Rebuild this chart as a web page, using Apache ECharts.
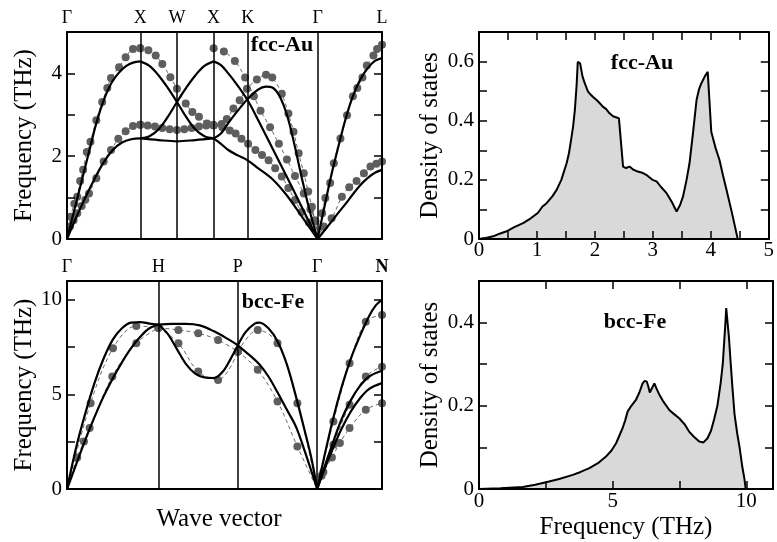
<!DOCTYPE html>
<html>
<head>
<meta charset="utf-8">
<script src="https://cdn.jsdelivr.net/npm/echarts@6/dist/echarts.min.js"></script>
<style>
html,body{margin:0;padding:0;background:#fff;}
#wrap{position:relative;width:777px;height:542px;}
#c,#ax{position:absolute;left:0;top:0;width:777px;height:542px;}
</style>
</head>
<body>
<div id="wrap"><div id="c"></div><div id="ax"></div></div>
<script>
// ---------- high-symmetry points ----------
const auSym = [0, 1, 1.5, 2, 2.464, 3.419, 4.297];
const auSymLabels = ['Γ', 'X', 'W', 'X', 'K', 'Γ', 'L'];
const feSym = [0, 1, 1.866, 2.732, 3.44];
const feSymLabels = ['Γ', 'H', 'P', 'Γ', 'N'];

// ---------- tick labels ----------
const auFreqTicks = [0, 2, 4];
const feFreqTicks = [0, 5, 10];
const auDosXTicks = [0, 1, 2, 3, 4, 5];
const auDosYTicks = [0, 0.2, 0.4, 0.6];
const feDosXTicks = [0, 5, 10];
const feDosYTicks = [0, 0.2, 0.4];

// ---------- fcc-Au dispersion: theory (solid) ----------
const auThGX_TA = [[0,0],[0.125,0.52],[0.25,1.0],[0.375,1.45],[0.5,1.85],[0.625,2.15],[0.75,2.33],[0.875,2.41],[1,2.43]];
const auThGX_LA = [[0,0],[0.1,0.7],[0.2,1.4],[0.3,2.1],[0.4,2.8],[0.5,3.35],[0.6,3.75],[0.7,4.0],[0.8,4.17],[0.9,4.26],[1,4.29]];
const auThXWX_flat = [[1,2.43],[1.25,2.39],[1.5,2.36],[1.75,2.39],[2,2.43]];
const auThXWX_down = [[1,4.29],[1.125,4.18],[1.25,3.95],[1.375,3.65],[1.5,3.31],[1.625,2.95],[1.75,2.65],[1.875,2.48],[2,2.43]];
const auThXWX_up = [[1,2.43],[1.125,2.48],[1.25,2.65],[1.375,2.95],[1.5,3.31],[1.625,3.65],[1.75,3.95],[1.875,4.18],[2,4.29]];
const auThXKG_A = [[2,4.29],[2.1,4.2],[2.2,4.0],[2.33,3.7],[2.464,3.35],[2.6,2.9],[2.8,2.2],[3.0,1.5],[3.2,0.78],[3.419,0]];
const auThXKG_B = [[2,2.43],[2.1,2.55],[2.2,2.8],[2.33,3.1],[2.464,3.38],[2.6,3.6],[2.72,3.68],[2.8,3.66],[2.9,3.45],[3.0,3.0],[3.1,2.3],[3.2,1.5],[3.3,0.75],[3.419,0]];
const auThXKG_C = [[2,2.43],[2.1,2.3],[2.2,2.15],[2.33,2.02],[2.464,1.9],[2.6,1.72],[2.8,1.45],[3.0,1.05],[3.2,0.55],[3.419,0]];
const auThGL_LA = [[3.419,0],[3.5,0.68],[3.6,1.5],[3.7,2.22],[3.8,2.9],[3.9,3.45],[4.0,3.85],[4.1,4.12],[4.2,4.3],[4.297,4.37]];
const auThGL_TA = [[3.419,0],[3.5,0.18],[3.6,0.4],[3.7,0.63],[3.8,0.85],[3.9,1.08],[4.0,1.3],[4.1,1.47],[4.2,1.6],[4.297,1.67]];

// ---------- fcc-Au dispersion: experiment (dots + dashed) ----------
const auExGX_up = [[0,0],[0.05,0.54],[0.1,0.85],[0.14,1.02],[0.18,1.4],[0.22,1.67],[0.27,2.1],[0.32,2.35],[0.40,2.87],[0.48,3.31],[0.55,3.65],[0.60,3.89],[0.71,4.15],[0.80,4.39],[0.90,4.59],[1.0,4.61]];
const auExGX_lo = [[0,0],[0.04,0.3],[0.09,0.45],[0.14,0.62],[0.2,0.8],[0.25,0.95],[0.3,1.1],[0.4,1.47],[0.5,1.87],[0.6,2.15],[0.7,2.42],[0.8,2.6],[0.9,2.73],[1.0,2.76]];
const auExXWX_down = [[1.0,4.61],[1.11,4.56],[1.21,4.43],[1.3,4.23],[1.41,3.91],[1.5,3.63],[1.62,3.27],[1.71,3.07],[1.8,2.95],[1.91,2.79],[2.0,2.75]];
const auExXWX_flat = [[1.0,2.76],[1.1,2.74],[1.2,2.72],[1.3,2.68],[1.4,2.65],[1.5,2.63],[1.6,2.65],[1.7,2.68],[1.8,2.72],[1.9,2.74],[2.0,2.75]];
const auExXKG_A = [[2.0,4.61],[2.14,4.53],[2.29,4.3],[2.43,3.9],[2.55,3.45],[2.64,3.1],[2.77,2.7],[2.89,2.3],[3.0,1.92],[3.11,1.52],[3.23,1.1],[3.32,0.72],[3.39,0.42],[3.419,0]];
const auExXKG_B = [[2.0,2.75],[2.11,2.78],[2.18,2.9],[2.27,3.15],[2.355,3.35],[2.455,3.63],[2.59,3.85],[2.715,3.97],[2.8,3.9],[2.93,3.51],[3.02,3.03],[3.09,2.59],[3.16,2.07],[3.23,1.59],[3.29,1.15],[3.34,0.78],[3.38,0.45],[3.419,0]];
const auExXKG_C = [[2.0,2.75],[2.12,2.7],[2.22,2.62],[2.3,2.55],[2.38,2.42],[2.47,2.3],[2.57,2.15],[2.66,2.03],[2.75,1.9],[2.84,1.71],[2.93,1.51],[3.02,1.23],[3.11,0.94],[3.2,0.65],[3.3,0.4],[3.419,0]];
const auExGL_up = [[3.419,0],[3.48,0.62],[3.524,0.99],[3.59,1.35],[3.64,1.83],[3.73,2.43],[3.82,2.99],[3.9,3.45],[3.96,3.65],[4.03,3.9],[4.09,4.19],[4.18,4.43],[4.23,4.59],[4.297,4.69]];
const auExGL_lo = [[3.419,0],[3.5,0.3],[3.61,0.5],[3.75,1.02],[3.85,1.25],[3.95,1.4],[4.05,1.59],[4.14,1.75],[4.22,1.82],[4.297,1.87]];

// ---------- bcc-Fe dispersion: theory ----------
const feThGH_up = [[0,0],[0.1,2.2],[0.2,4.0],[0.3,5.6],[0.4,6.9],[0.5,7.9],[0.6,8.5],[0.7,8.8],[0.8,8.82],[0.9,8.75],[1,8.7]];
const feThGH_lo = [[0,0],[0.1,1.3],[0.2,2.6],[0.3,3.8],[0.4,4.9],[0.5,5.85],[0.6,6.7],[0.7,7.45],[0.8,8.05],[0.9,8.5],[1,8.7]];
const feThHP_flat = [[1,8.7],[1.15,8.73],[1.3,8.73],[1.45,8.65],[1.6,8.35],[1.75,7.95],[1.866,7.6]];
const feThHP_dip = [[1,8.7],[1.1,8.2],[1.2,7.4],[1.3,6.6],[1.4,6.1],[1.5,5.9],[1.6,5.87],[1.7,6.2],[1.8,7.0],[1.866,7.6]];
const feThPG_up = [[1.866,7.6],[1.95,8.3],[2.05,8.75],[2.1,8.8],[2.2,8.5],[2.3,7.8],[2.4,6.6],[2.5,4.9],[2.6,3.0],[2.67,1.6],[2.732,0]];
const feThPG_lo = [[1.866,7.6],[2.0,7.05],[2.1,6.6],[2.2,5.95],[2.3,5.1],[2.4,4.2],[2.5,3.3],[2.6,1.95],[2.732,0]];
const feThGN_up = [[2.732,0],[2.8,1.5],[2.9,3.6],[3.0,5.4],[3.1,6.9],[3.2,8.1],[3.3,9.15],[3.37,9.7],[3.44,10.0]];
const feThGN_mid = [[2.732,0],[2.8,1.0],[2.9,2.4],[3.0,3.7],[3.1,4.7],[3.2,5.45],[3.3,5.95],[3.44,6.25]];
const feThGN_lo = [[2.732,0],[2.8,0.9],[2.9,2.1],[3.0,3.2],[3.1,4.1],[3.2,4.8],[3.3,5.3],[3.44,5.6]];

// ---------- bcc-Fe dispersion: experiment ----------
const feExGH_up = [[0,0],[0.258,4.54],[0.502,7.44],[0.757,8.62],[1,8.53]];
const feExGH_lo = [[0,0],[0.112,1.67],[0.185,2.51],[0.247,3.22],[0.495,5.95],[0.757,7.71],[1,8.53]];
const feExHP_flat = [[1,8.53],[1.217,8.41],[1.433,8.24],[1.65,7.88],[1.866,7.27]];
const feExHP_dip = [[1,8.53],[1.217,7.71],[1.433,6.21],[1.65,5.77],[1.866,7.27]];
const feExPG_up = [[1.866,7.27],[2.083,8.41],[2.299,7.71],[2.516,4.54],[2.732,0]];
const feExPG_lo = [[1.866,7.27],[2.083,6.3],[2.299,4.63],[2.516,2.25],[2.732,0]];
const feExGN_up = [[2.732,0],[2.909,3.57],[3.086,6.65],[3.263,8.85],[3.44,9.2]];
const feExGN_mid = [[2.732,0],[2.8,0.9],[2.91,2.34],[3.086,4.45],[3.263,5.95],[3.44,6.47]];
const feExGN_lo = [[2.732,0],[2.78,0.7],[2.893,1.67],[2.98,2.43],[3.086,3.22],[3.263,4.19],[3.44,4.54]];

// ---------- phonon DOS ----------
const auDosFreq = [0,0.1,0.24,0.35,0.47,0.6,0.75,0.88,1.0,1.08,1.15,1.25,1.32,1.4,1.49,1.53,1.57,1.6,1.63,1.66,1.68,1.72,1.76,1.8,1.85,1.88,1.94,2.0,2.05,2.11,2.16,2.22,2.28,2.34,2.38,2.45,2.5,2.56,2.62,2.7,2.79,2.86,2.95,3.02,3.1,3.19,3.28,3.36,3.42,3.47,3.53,3.58,3.64,3.70,3.74,3.78,3.84,3.89,3.92,3.95,4.02,4.09,4.15,4.21,4.3,4.40];
const auDosVal = [0,0.003,0.009,0.018,0.026,0.04,0.054,0.07,0.088,0.11,0.121,0.145,0.166,0.2,0.256,0.29,0.34,0.38,0.436,0.52,0.599,0.594,0.55,0.526,0.5,0.492,0.48,0.47,0.46,0.447,0.44,0.425,0.415,0.411,0.408,0.245,0.24,0.245,0.235,0.228,0.223,0.215,0.2,0.195,0.175,0.155,0.125,0.093,0.115,0.144,0.2,0.256,0.36,0.47,0.505,0.526,0.55,0.565,0.565,0.363,0.31,0.267,0.215,0.166,0.09,0];
const feDosFreq = [0,0.8,1.64,2.1,2.51,3.0,3.51,3.8,4.13,4.45,4.75,4.95,5.13,5.25,5.37,5.47,5.56,5.7,5.87,6.0,6.12,6.2,6.28,6.34,6.39,6.47,6.56,6.65,6.74,6.9,7.12,7.3,7.49,7.7,7.86,8.05,8.24,8.4,8.55,8.68,8.79,8.92,9.04,9.12,9.17,9.22,9.25,9.3,9.35,9.42,9.48,9.56,9.66,9.75,9.85,9.93,9.98];
const feDosVal = [0,0.002,0.005,0.01,0.016,0.024,0.034,0.041,0.05,0.062,0.078,0.092,0.11,0.128,0.146,0.165,0.186,0.2,0.214,0.232,0.254,0.26,0.258,0.245,0.232,0.242,0.254,0.24,0.228,0.21,0.19,0.18,0.17,0.155,0.138,0.125,0.114,0.112,0.122,0.14,0.166,0.2,0.254,0.3,0.35,0.4,0.435,0.4,0.366,0.3,0.246,0.18,0.134,0.1,0.054,0.025,0];

// ---------- build ----------
const FONT = 'Liberation Serif';

const grids = [
  {left: 67, top: 32, width: 315, height: 207},
  {left: 67, top: 281, width: 315, height: 208},
  {left: 479, top: 32, width: 294, height: 207},
  {left: 479, top: 281, width: 294, height: 208}
];

function symFormatter(sym, labels) {
  return function (v) {
    const i = sym.findIndex(s => Math.abs(s - v) < 1e-6);
    if (i < 0) return '';
    return labels[i] === 'N' ? '{b|N}' : labels[i];
  };
}

function buildAxes(visible) {
  const axisLine = {show: true, onZero: false, lineStyle: {color: '#000', width: 2}};
  const tickIn = {show: true, inside: true, length: 8, lineStyle: {color: '#000', width: 1.5}};
  const lblStyle = {color: '#000', fontFamily: FONT, fontSize: 21};
  const nameStyle = {color: '#000', fontFamily: FONT, fontSize: 25};
  const xAxis = [
    {type: 'value', gridIndex: 0, min: 0, max: 4.297, position: 'bottom', z: 5, axisLine, axisTick: {show: false}, axisLabel: {show: false}, splitLine: {show: false}},
    {type: 'value', gridIndex: 0, min: 0, max: 4.297, position: 'top', z: 5, axisLine, axisTick: {show: false}, splitLine: {show: false},
     axisLabel: {customValues: auSym, formatter: symFormatter(auSym, auSymLabels), color: '#000', fontFamily: FONT, fontSize: 18, margin: 5}},
    {type: 'value', gridIndex: 1, min: 0, max: 3.44, position: 'bottom', z: 5, axisLine, axisTick: {show: false}, axisLabel: {show: false}, splitLine: {show: false}},
    {type: 'value', gridIndex: 1, min: 0, max: 3.44, position: 'top', z: 5, axisLine, axisTick: {show: false}, splitLine: {show: false},
     axisLabel: {customValues: feSym, formatter: symFormatter(feSym, feSymLabels), color: '#000', fontFamily: FONT, fontSize: 18, margin: 5,
       rich: {b: {fontWeight: 'bold', fontFamily: FONT, fontSize: 18, color: '#000'}}}},
    {type: 'value', gridIndex: 2, min: 0, max: 5, interval: 0.5, position: 'bottom', z: 5, axisLine, axisTick: tickIn, splitLine: {show: false},
     axisLabel: Object.assign({customValues: auDosXTicks, margin: 1}, lblStyle)},
    {type: 'value', gridIndex: 2, min: 0, max: 5, interval: 0.5, position: 'top', z: 5, axisLine, axisTick: tickIn, splitLine: {show: false}, axisLabel: {show: false}},
    {type: 'value', gridIndex: 3, min: 0, max: 11, interval: 2.5, position: 'bottom', z: 5, axisLine, axisTick: tickIn, splitLine: {show: false},
     axisLabel: Object.assign({customValues: feDosXTicks, margin: 2}, lblStyle),
     name: 'Frequency (THz)', nameLocation: 'middle', nameGap: 26, nameTextStyle: nameStyle},
    {type: 'value', gridIndex: 3, min: 0, max: 11, interval: 2.5, position: 'top', z: 5, axisLine, axisTick: tickIn, splitLine: {show: false}, axisLabel: {show: false}}
  ];
  function yPair(g, max, interval, labels, name, gap) {
    return [
      {type: 'value', gridIndex: g, min: 0, max: max, interval: interval, position: 'left', z: 5, axisLine, axisTick: tickIn, splitLine: {show: false},
       axisLabel: Object.assign({customValues: labels, margin: 5}, lblStyle),
       name: name, nameLocation: 'middle', nameGap: gap, nameTextStyle: nameStyle},
      {type: 'value', gridIndex: g, min: 0, max: max, interval: interval, position: 'right', z: 5, axisLine, axisTick: tickIn, splitLine: {show: false}, axisLabel: {show: false}}
    ];
  }
  const yAxis = [].concat(
    yPair(0, 5, 1, auFreqTicks, 'Frequency (THz)', 30),
    yPair(1, 11, 2.5, feFreqTicks, 'Frequency (THz)', 30),
    yPair(2, 0.7, 0.1, auDosYTicks, 'Density of states', 36),
    yPair(3, 0.5, 0.1, feDosYTicks, 'Density of states', 36)
  );
  if (!visible) {
    xAxis.forEach(a => { a.show = false; delete a.name; });
    yAxis.forEach(a => { a.show = false; delete a.name; });
  }
  return {xAxis, yAxis};
}

function theory(g, pts) {
  return {
    type: 'line', xAxisIndex: 2 * g, yAxisIndex: 2 * g, data: pts, smooth: 0.35,
    symbol: 'none', showSymbol: false, silent: true, animation: false, z: 3,
    lineStyle: {color: '#000', width: 2.2}
  };
}
function expt(g, pts) {
  return {
    type: 'line', xAxisIndex: 2 * g, yAxisIndex: 2 * g, smooth: 0.35,
    data: pts.map(p => p[1] === 0 ? {value: p, symbol: 'none'} : {value: p}),
    symbol: 'circle', symbolSize: 8, showSymbol: true, showAllSymbol: true,
    silent: true, animation: false, z: 2,
    itemStyle: {color: '#5e5e5e', borderWidth: 0},
    lineStyle: {color: '#6a6a6a', width: 1, type: [4, 3]}
  };
}
function vlines(sym) {
  return {
    silent: true, symbol: ['none', 'none'], animation: false,
    label: {show: false},
    lineStyle: {color: '#000', width: 1.5, type: 'solid'},
    data: sym.slice(1, -1).map(v => ({xAxis: v}))
  };
}

const dataSeries = [
  theory(0, auThGX_TA), theory(0, auThGX_LA), theory(0, auThXWX_flat), theory(0, auThXWX_down), theory(0, auThXWX_up),
  theory(0, auThXKG_A), theory(0, auThXKG_B), theory(0, auThXKG_C), theory(0, auThGL_LA), theory(0, auThGL_TA),
  expt(0, auExGX_up), expt(0, auExGX_lo), expt(0, auExXWX_down), expt(0, auExXWX_flat),
  expt(0, auExXKG_A), expt(0, auExXKG_B), expt(0, auExXKG_C), expt(0, auExGL_up), expt(0, auExGL_lo),

  theory(1, feThGH_up), theory(1, feThGH_lo), theory(1, feThHP_flat), theory(1, feThHP_dip), theory(1, feThPG_up), theory(1, feThPG_lo),
  theory(1, feThGN_up), theory(1, feThGN_mid), theory(1, feThGN_lo),
  expt(1, feExGH_up), expt(1, feExGH_lo), expt(1, feExHP_flat), expt(1, feExHP_dip),
  expt(1, feExPG_up), expt(1, feExPG_lo), expt(1, feExGN_up), expt(1, feExGN_mid), expt(1, feExGN_lo),

  {type: 'line', xAxisIndex: 4, yAxisIndex: 4, data: auDosFreq.map((f, i) => [f, auDosVal[i]]),
   symbol: 'none', showSymbol: false, silent: true, animation: false, z: 2,
   lineStyle: {color: '#000', width: 2}, areaStyle: {color: '#d9d9d9', opacity: 1}},
  {type: 'line', xAxisIndex: 6, yAxisIndex: 6, data: feDosFreq.map((f, i) => [f, feDosVal[i]]),
   symbol: 'none', showSymbol: false, silent: true, animation: false, z: 2,
   lineStyle: {color: '#000', width: 2}, areaStyle: {color: '#d9d9d9', opacity: 1}}
];

const graphics = [
  {type: 'text', x: 282, y: 45, z: 10, style: {text: 'fcc-Au', font: 'bold 22px "Liberation Serif"', fill: '#000', textAlign: 'center', textVerticalAlign: 'middle'}},
  {type: 'text', x: 273, y: 302, z: 10, style: {text: 'bcc-Fe', font: 'bold 22px "Liberation Serif"', fill: '#000', textAlign: 'center', textVerticalAlign: 'middle'}},
  {type: 'text', x: 642, y: 63, z: 10, style: {text: 'fcc-Au', font: 'bold 22px "Liberation Serif"', fill: '#000', textAlign: 'center', textVerticalAlign: 'middle'}},
  {type: 'text', x: 635, y: 322, z: 10, style: {text: 'bcc-Fe', font: 'bold 22px "Liberation Serif"', fill: '#000', textAlign: 'center', textVerticalAlign: 'middle'}},
  {type: 'text', x: 219, y: 519, z: 10, style: {text: 'Wave vector', font: '25px "Liberation Serif"', fill: '#000', textAlign: 'center', textVerticalAlign: 'middle'}}
];

// data layer: curves, dots, DOS fills, panel labels
const chart = echarts.init(document.getElementById('c'), null, {renderer: 'canvas'});
const hidden = buildAxes(false);
chart.setOption({
  animation: false,
  backgroundColor: '#fff',
  textStyle: {fontFamily: FONT},
  grid: grids,
  xAxis: hidden.xAxis,
  yAxis: hidden.yAxis,
  series: dataSeries,
  graphic: graphics
});

// axis layer on top: frames, inward ticks, tick labels, titles, symmetry lines
const axisChart = echarts.init(document.getElementById('ax'), null, {renderer: 'canvas'});
const shown = buildAxes(true);
axisChart.setOption({
  animation: false,
  backgroundColor: 'transparent',
  textStyle: {fontFamily: FONT},
  grid: grids,
  xAxis: shown.xAxis,
  yAxis: shown.yAxis,
  series: [
    {type: 'line', xAxisIndex: 0, yAxisIndex: 0, data: auThGX_LA, symbol: 'none', silent: true, animation: false, lineStyle: {opacity: 0}, markLine: vlines(auSym)},
    {type: 'line', xAxisIndex: 2, yAxisIndex: 2, data: feThGH_up, symbol: 'none', silent: true, animation: false, lineStyle: {opacity: 0}, markLine: vlines(feSym)},
    {type: 'line', xAxisIndex: 4, yAxisIndex: 4, data: auDosFreq.map((f, i) => [f, auDosVal[i]]), symbol: 'none', silent: true, animation: false, lineStyle: {opacity: 0}},
    {type: 'line', xAxisIndex: 6, yAxisIndex: 6, data: feDosFreq.map((f, i) => [f, feDosVal[i]]), symbol: 'none', silent: true, animation: false, lineStyle: {opacity: 0}}
  ]
});
</script>
</body>
</html>
